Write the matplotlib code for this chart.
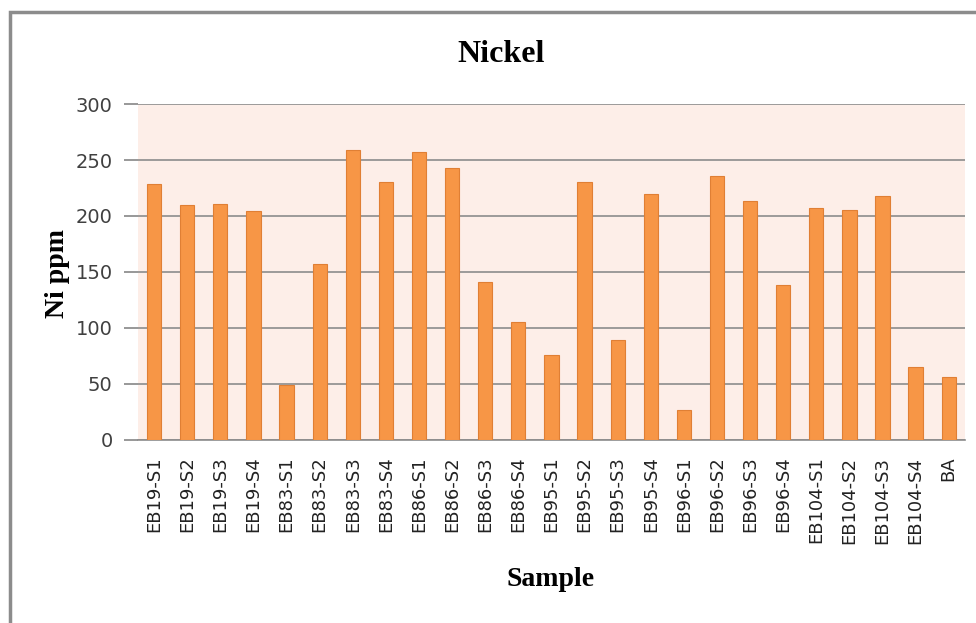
import numpy as np
import matplotlib.pyplot as plt
from matplotlib.patches import Rectangle

samples = ["EB19-S1", "EB19-S2", "EB19-S3", "EB19-S4",
           "EB83-S1", "EB83-S2", "EB83-S3", "EB83-S4",
           "EB86-S1", "EB86-S2", "EB86-S3", "EB86-S4",
           "EB95-S1", "EB95-S2", "EB95-S3", "EB95-S4",
           "EB96-S1", "EB96-S2", "EB96-S3", "EB96-S4",
           "EB104-S1", "EB104-S2", "EB104-S3", "EB104-S4", "BA"]
ni_ppm = [229, 210, 211, 204,
          49, 157, 259, 230,
          257, 243, 141, 105,
          76, 230, 89, 220,
          27, 236, 213, 138,
          207, 205, 218, 65, 56]
yticks = [0, 50, 100, 150, 200, 250, 300]

fig = plt.figure(figsize=(9.76, 6.23), dpi=100)
ax = fig.add_axes([0.141, 0.294, 0.848, 0.539])

x = np.arange(len(samples))
ax.bar(x, ni_ppm, width=0.43, color='#F79646', edgecolor='#E07F34', linewidth=0.8, zorder=3)

ax.set_facecolor('#FDEEE8')
ax.set_xlim(-0.5, len(samples) - 0.5)
ax.set_ylim(0, 300)
ax.set_yticks(yticks)
ax.set_xticks(x)
ax.set_xticklabels(samples, rotation=90, fontsize=13, family='DejaVu Sans', color='#222222')
ax.tick_params(axis='y', labelsize=14, colors='#868686', labelcolor='#404040', length=10, width=1.2, pad=8)
ax.tick_params(axis='x', length=0, pad=12)
ax.yaxis.grid(True, color='#8C8C8C', linewidth=1.2, zorder=1)

for side in ['top', 'right', 'left']:
    ax.spines[side].set_visible(False)
ax.spines['bottom'].set_color('#8C8C8C')
ax.spines['bottom'].set_linewidth(1.2)

fig.text(501 / 976, 1 - 54 / 623, "Nickel", fontsize=23, fontweight='bold',
         family='Liberation Serif', ha='center', va='center')
fig.text(58 / 976, 1 - 273 / 623, "Ni ppm", fontsize=20, fontweight='bold',
         family='Liberation Serif', ha='center', va='center', rotation=90)
fig.text(551 / 976, 1 - 580 / 623, "Sample", fontsize=20, fontweight='bold',
         family='Liberation Serif', ha='center', va='center')

# outer chart frame
fig.patches.append(Rectangle((10 / 976, -0.1), 1.1, 1 - 12 / 623 + 0.1, transform=fig.transFigure,
                             fill=False, edgecolor='#8C8C8C', linewidth=2.5))

fig.savefig("out.png", dpi=100)
